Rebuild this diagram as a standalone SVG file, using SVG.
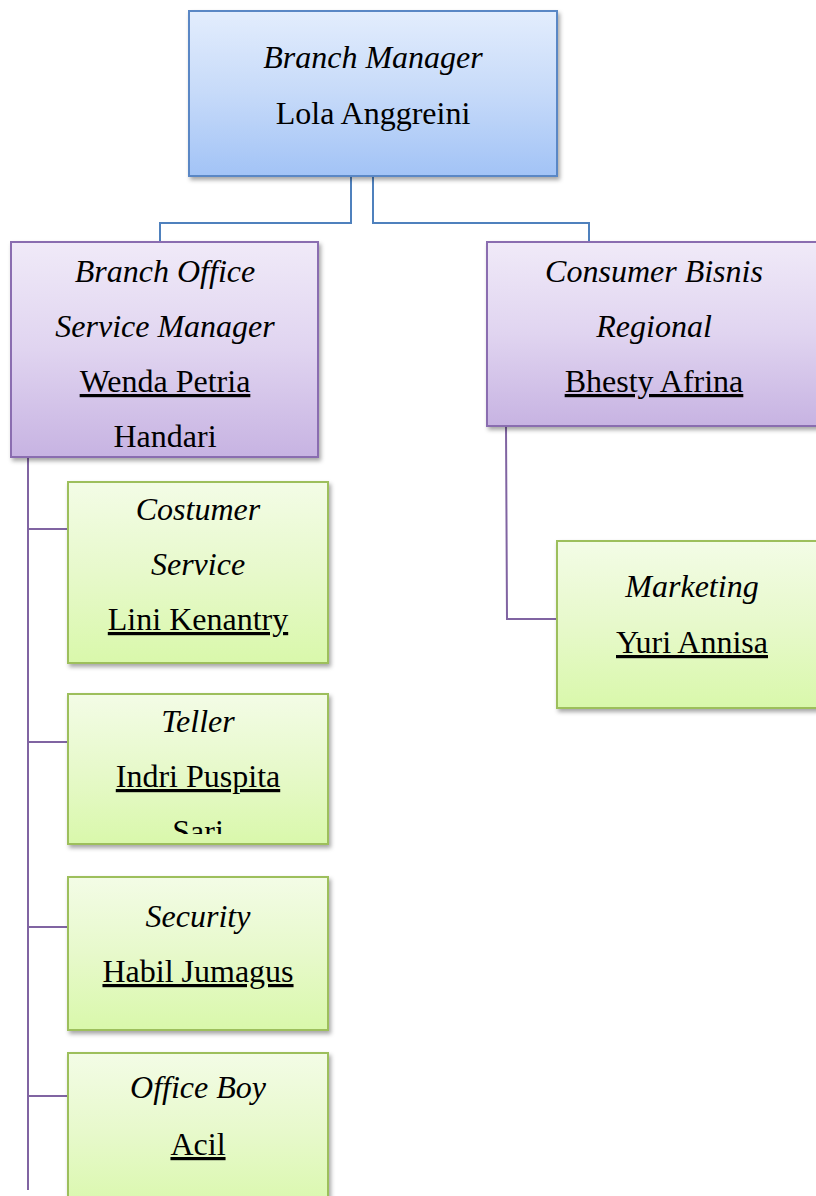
<svg xmlns="http://www.w3.org/2000/svg" width="816" height="1196" viewBox="0 0 816 1196">
<style>
text{font-family:"Liberation Serif","Times New Roman",serif;font-size:32px;fill:#000;text-anchor:middle}
.t{font-style:italic}
.u{text-decoration:underline}
.blue{fill:url(#gBlue);stroke:#5a87c5;stroke-width:2}
.purple{fill:url(#gPurple);stroke:#8a6db0;stroke-width:2}
.green{fill:url(#gGreen);stroke:#9dbf5c;stroke-width:2}
.cb{fill:none;stroke:#4f81bd;stroke-width:2}
.cp{fill:none;stroke:#8064a2;stroke-width:2}
</style>
<defs>
<linearGradient id="gBlue" x1="0" y1="0" x2="0" y2="1"><stop offset="0" stop-color="#e3edfd"/><stop offset="0.5" stop-color="#c6daf9"/><stop offset="1" stop-color="#a2c3f6"/></linearGradient>
<linearGradient id="gPurple" x1="0" y1="0" x2="0" y2="1"><stop offset="0" stop-color="#f0eaf8"/><stop offset="0.5" stop-color="#e0d4f0"/><stop offset="1" stop-color="#c7b3e2"/></linearGradient>
<linearGradient id="gGreen" x1="0" y1="0" x2="0" y2="1"><stop offset="0" stop-color="#f3fce6"/><stop offset="0.5" stop-color="#e7f9cb"/><stop offset="1" stop-color="#d9f8ab"/></linearGradient>
<filter id="sh" x="-10%" y="-10%" width="120%" height="130%"><feDropShadow dx="2" dy="3" stdDeviation="2" flood-color="#000" flood-opacity="0.35"/></filter>
<clipPath id="clipTeller"><rect x="68" y="694" width="260" height="140"/></clipPath>
</defs>

<g id="connectors">
<polyline class="cb" points="351,176 351,223 160,223 160,242"/>
<polyline class="cb" points="373,176 373,223 589,223 589,242"/>
<polyline class="cp" points="28,457 28,1190"/>
<line class="cp" x1="28" y1="529" x2="68" y2="529"/>
<line class="cp" x1="28" y1="742" x2="68" y2="742"/>
<line class="cp" x1="28" y1="927" x2="68" y2="927"/>
<line class="cp" x1="28" y1="1096" x2="68" y2="1096"/>
<polyline class="cp" points="506,426 507,619 557,619"/>
</g>

<g id="branch-manager">
<rect class="blue" x="189" y="11" width="368" height="165" filter="url(#sh)"/>
<text class="t" x="373" y="68">Branch Manager</text>
<text x="373" y="124">Lola Anggreini</text>
</g>

<g id="bosm">
<rect class="purple" x="11" y="242" width="307" height="215" filter="url(#sh)"/>
<text class="t" x="165" y="282">Branch Office</text>
<text class="t" x="165" y="337">Service Manager</text>
<text class="u" x="165" y="392">Wenda Petria</text>
<text x="165" y="447">Handari</text>
</g>

<g id="cbr">
<rect class="purple" x="487" y="242" width="334" height="184" filter="url(#sh)"/>
<text class="t" x="654" y="282">Consumer Bisnis</text>
<text class="t" x="654" y="337">Regional</text>
<text class="u" x="654" y="392">Bhesty Afrina</text>
</g>

<g id="cs">
<rect class="green" x="68" y="482" width="260" height="181" filter="url(#sh)"/>
<text class="t" x="198" y="520">Costumer</text>
<text class="t" x="198" y="575">Service</text>
<text class="u" x="198" y="630">Lini Kenantry</text>
</g>

<g id="teller">
<rect class="green" x="68" y="694" width="260" height="150" filter="url(#sh)"/>
<text class="t" x="198" y="732">Teller</text>
<text class="u" x="198" y="787">Indri Puspita</text>
<text x="198" y="842" clip-path="url(#clipTeller)">Sari</text>
</g>

<g id="security">
<rect class="green" x="68" y="877" width="260" height="153" filter="url(#sh)"/>
<text class="t" x="198" y="927">Security</text>
<text class="u" x="198" y="982">Habil Jumagus</text>
</g>

<g id="office-boy">
<rect class="green" x="68" y="1053" width="260" height="160" filter="url(#sh)"/>
<text class="t" x="198" y="1098">Office Boy</text>
<text class="u" x="198" y="1155">Acil</text>
</g>

<g id="marketing">
<rect class="green" x="557" y="541" width="271" height="167" filter="url(#sh)"/>
<text class="t" x="692" y="597">Marketing</text>
<text class="u" x="692" y="653">Yuri Annisa</text>
</g>
</svg>
